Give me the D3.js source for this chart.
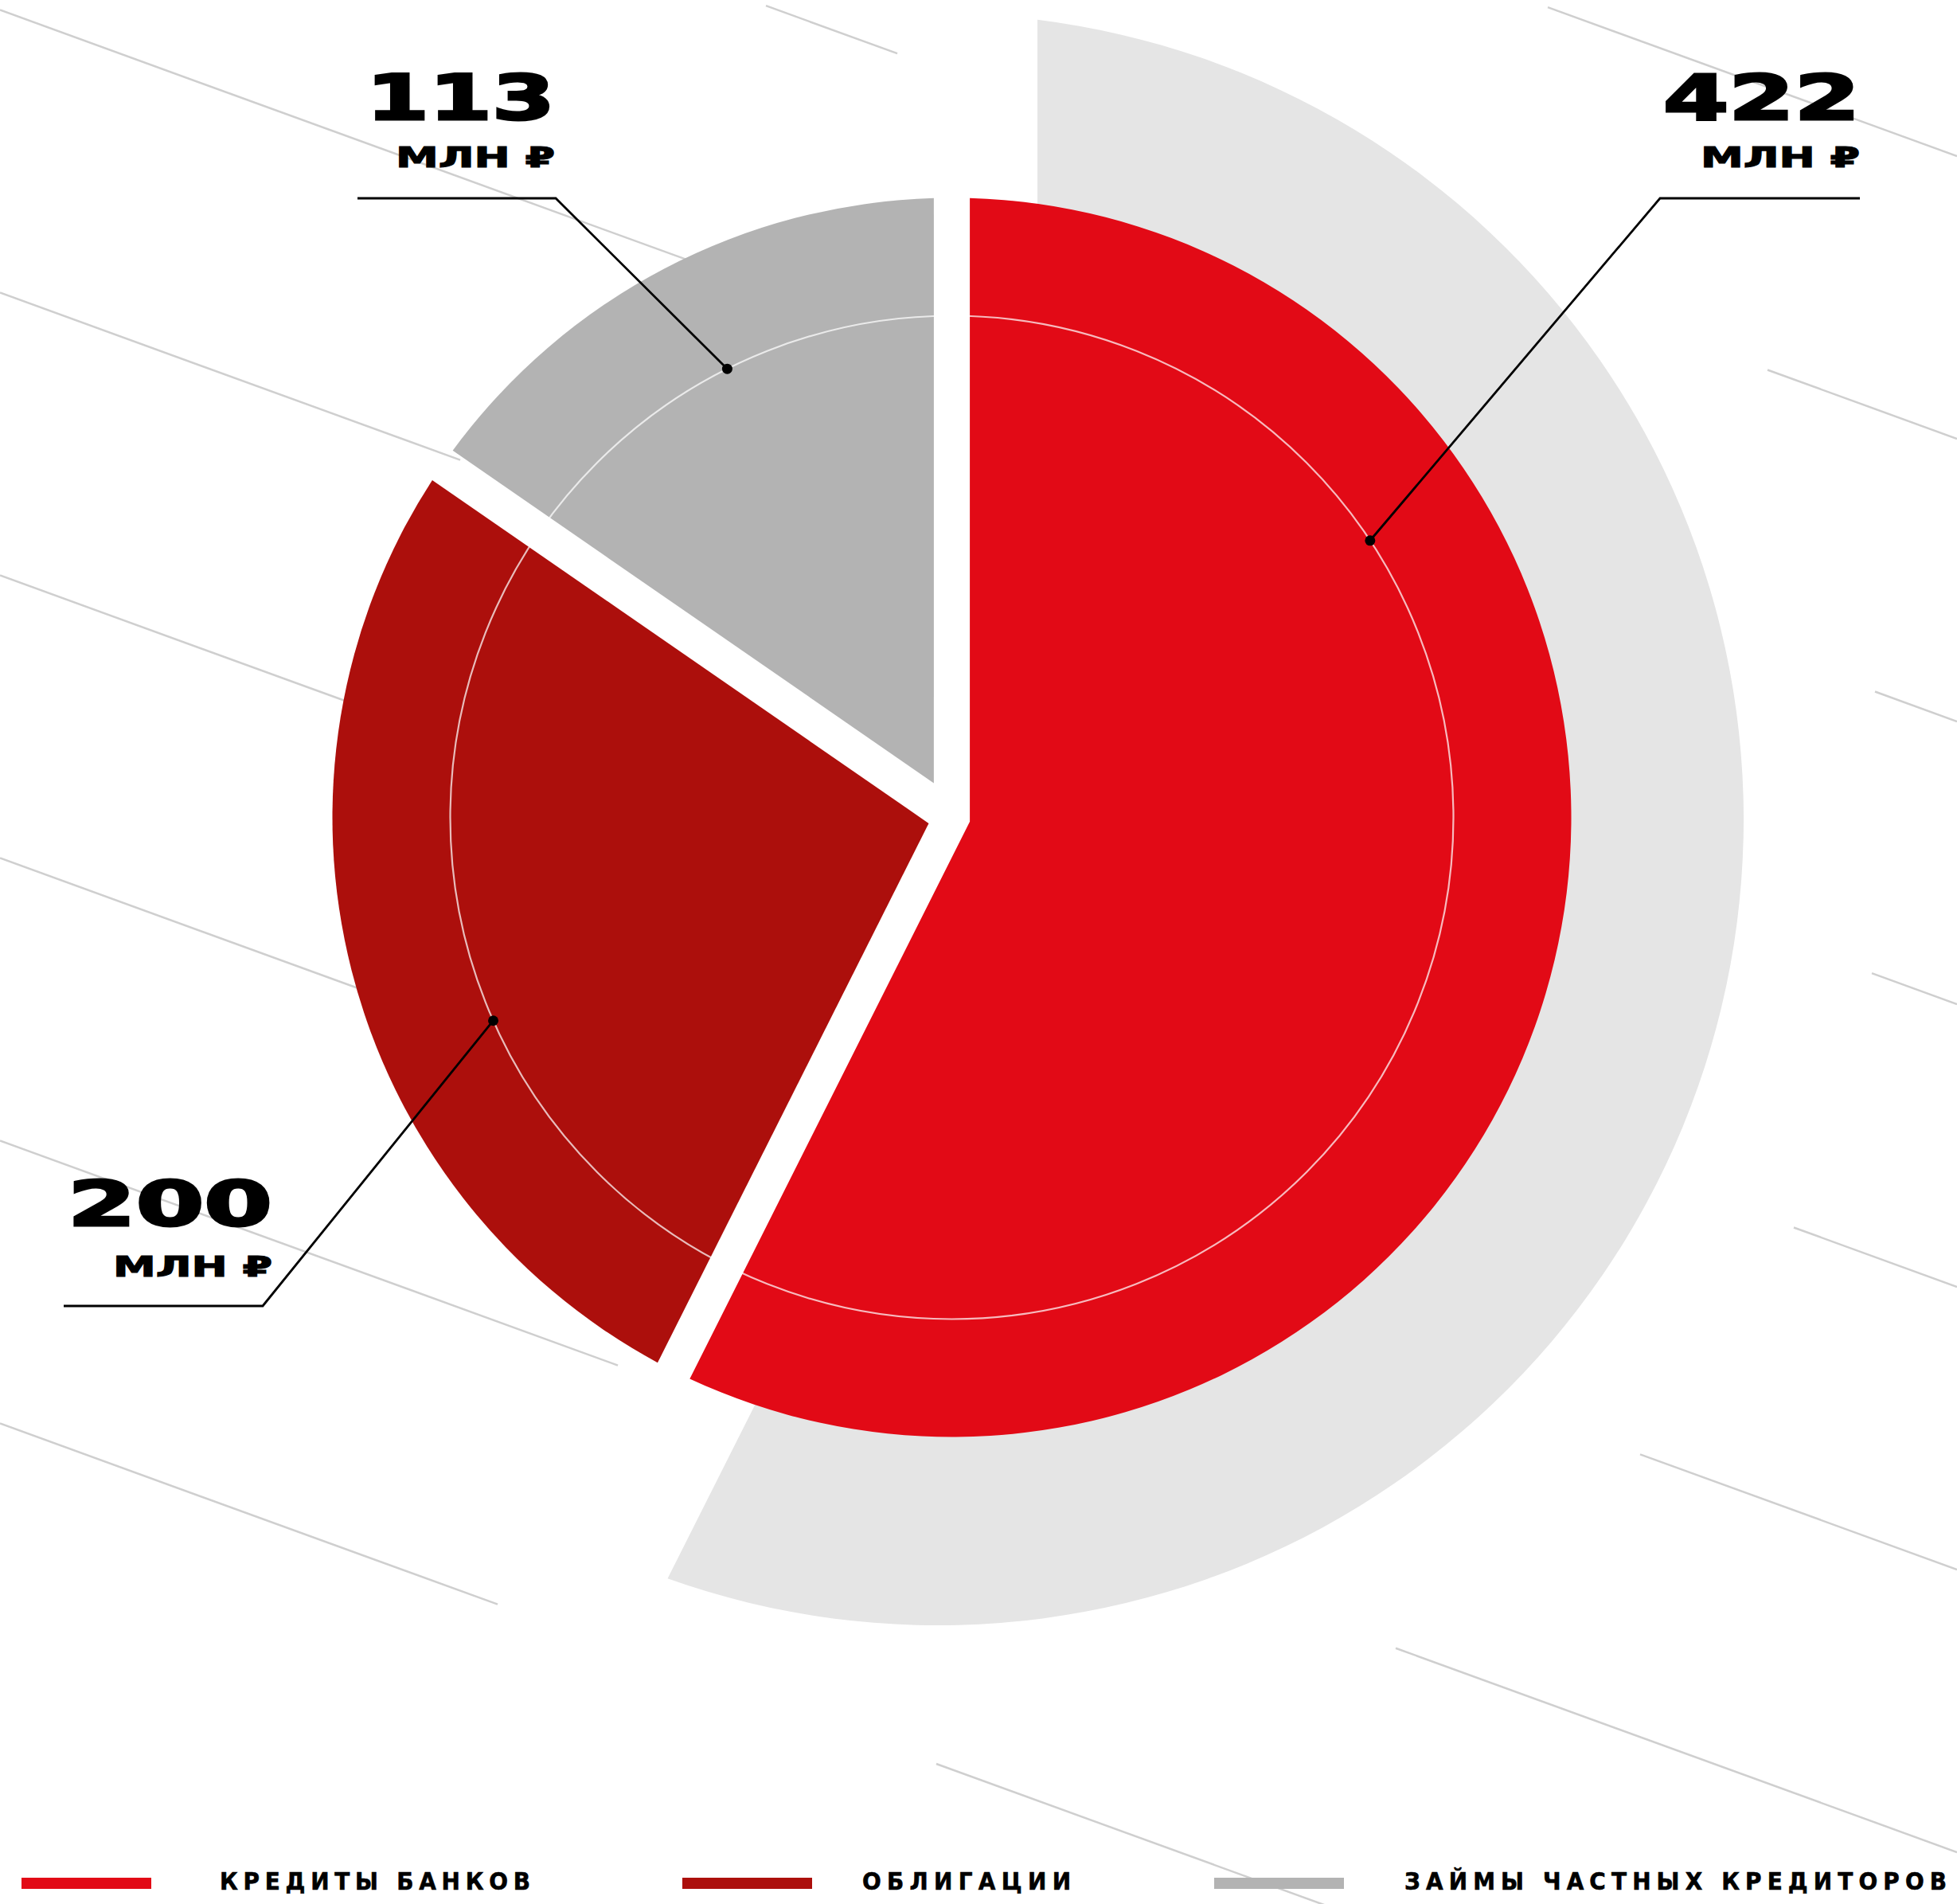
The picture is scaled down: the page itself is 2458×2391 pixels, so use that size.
<!DOCTYPE html>
<html>
<head>
<meta charset="utf-8">
<script src="https://cdnjs.cloudflare.com/ajax/libs/d3/7.8.5/d3.min.js"></script>
<style>
  html, body { margin: 0; padding: 0; background: #fff; }
  svg { display: block; }
</style>
</head>
<body>
<svg id="chart" width="2458" height="2391"></svg>
<script>
/*
 * Debt structure: exploded pie with a light backdrop sector behind
 * the largest slice, leader-line labels and a legend along the bottom.
*/

// Data
var categories = ["КРЕДИТЫ БАНКОВ", "ОБЛИГАЦИИ", "ЗАЙМЫ ЧАСТНЫХ КРЕДИТОРОВ"];
var values = [422, 200, 113];
var unitLabel = "МЛН ₽";

// Styles
var sliceColors = ["#e20a16", "#ac0f0c", "#b3b3b3"];
var BACKDROP_COLOR = "#e5e5e5";
var STRIPE_COLOR = "#cfcfcf";

var WIDTH = 2458, HEIGHT = 2391;
var CX = 1195.5, CY = 1026.5;     // pie centre
var RADIUS = 778;                 // outer radius of the slices
var INSET = 22.6;                 // half of the white gap between slices
var GUIDE_RADIUS = 630;           // thin circle the leader dots sit on

// Backdrop sector behind the biggest slice.
var BG_CX = 1178, BG_CY = 1029, BG_RADIUS = 1012, BG_INSET = 125;

// Decorative diagonal stripes: [stripe number, x from, x to].
var STRIPE_SLOPE = 0.3635, STRIPE_Y0 = 12.5, STRIPE_STEP = 355;
var stripes = [
  [-2, 1944, 2458], [-1, 962, 1127], [-1, 2220, 2458],
  [0, 0, 900], [0, 2355, 2458], [1, 0, 578], [1, 2351, 2458],
  [2, 0, 445], [2, 2253, 2458], [3, 0, 460], [3, 2060, 2458],
  [4, 0, 776], [4, 1753, 2458], [5, 0, 625], [5, 1176, 1700]
];

// Leader labels, one per slice.
var annotations = [
  { index: 0, angle: 56.5,  elbow: [2085, 249],  end: [2336, 249],  textX: 2336, numY: 150,  unitY: 210,  numWidth: 247 },
  { index: 1, angle: 246.1, elbow: [330, 1640],  end: [80, 1640],   textX: 342,  numY: 1539, unitY: 1603, numWidth: 257 },
  { index: 2, angle: 333.4, elbow: [698, 249],   end: [449, 249],   textX: 697,  numY: 150,  unitY: 210,  numWidth: 237 }
];

// Legend layout.
var legendBarX = [27, 857, 1525];
var legendTextX = [276, 1083, 1764];
var legendTextWidth = [390, 262, 681];
var LEGEND_Y = 2373;

var svg = d3.select("#chart");

svg.append("rect")
  .attr("width", WIDTH)
  .attr("height", HEIGHT)
  .attr("fill", "#fff");

// Point on a circle for a pie angle (0 = 12 o'clock, clockwise).
function polar(cx, cy, r, a) {
  return [cx + r * Math.sin(a), cy - r * Math.cos(a)];
}

// Sector with parallel-sided gaps: both straight edges are moved
// inwards by `inset`, so the tip sits off the centre on the bisector.
function insetSector(cx, cy, r, a0, a1, inset) {
  var half = (a1 - a0) / 2;
  var tip = polar(cx, cy, inset / Math.sin(half), a0 + half);
  var da = Math.asin(inset / r);
  var p = d3.path();
  p.moveTo(tip[0], tip[1]);
  p.arc(cx, cy, r, a0 + da - Math.PI / 2, a1 - da - Math.PI / 2);
  p.closePath();
  return p.toString();
}

// Stripes go first so everything else sits on top of them.
var stripeY = d3.scaleLinear().domain([0, 1]).range([0, STRIPE_SLOPE]);

svg.append("g")
  .attr("class", "stripes")
  .selectAll("line")
  .data(stripes)
  .enter().append("line")
    .attr("x1", function(d) { return d[1]; })
    .attr("y1", function(d) { return STRIPE_Y0 + STRIPE_STEP * d[0] + stripeY(d[1]); })
    .attr("x2", function(d) { return d[2]; })
    .attr("y2", function(d) { return STRIPE_Y0 + STRIPE_STEP * d[0] + stripeY(d[2]); })
    .attr("stroke", STRIPE_COLOR)
    .attr("stroke-width", 2.5);

var pie = d3.pie().sort(null).value(function(d) { return d; });
var arcs = pie(values);

// Light backdrop behind the bank-loan slice.
svg.append("path")
  .attr("d", insetSector(BG_CX, BG_CY, BG_RADIUS, arcs[0].startAngle, arcs[0].endAngle, BG_INSET))
  .attr("fill", BACKDROP_COLOR);

svg.append("g")
  .attr("class", "slices")
  .selectAll("path")
  .data(arcs)
  .enter().append("path")
    .attr("d", function(d) { return insetSector(CX, CY, RADIUS, d.startAngle, d.endAngle, INSET); })
    .attr("fill", function(d, i) { return sliceColors[i]; });

// Thin guide circle.
svg.append("circle")
  .attr("cx", CX)
  .attr("cy", CY)
  .attr("r", GUIDE_RADIUS)
  .attr("fill", "none")
  .attr("stroke", "rgba(255,255,255,0.72)")
  .attr("stroke-width", 2.2);

// Leader lines, dots and value labels.
var labels = svg.append("g").attr("class", "labels");

annotations.forEach(function(a) {
  var dot = polar(CX, CY, GUIDE_RADIUS, a.angle * Math.PI / 180);

  labels.append("polyline")
    .attr("points", [dot, a.elbow, a.end].map(function(p) { return p.join(","); }).join(" "))
    .attr("fill", "none")
    .attr("stroke", "#000")
    .attr("stroke-width", 2.8);

  labels.append("circle")
    .attr("cx", dot[0])
    .attr("cy", dot[1])
    .attr("r", 6.5)
    .attr("fill", "#000");

  labels.append("text")
    .attr("x", a.textX)
    .attr("y", a.numY)
    .attr("text-anchor", "end")
    .attr("font-family", "DejaVu Sans, sans-serif")
    .attr("font-weight", 700)
    .attr("font-size", 78)
    .attr("textLength", a.numWidth)
    .attr("lengthAdjust", "spacingAndGlyphs")
    .attr("stroke", "#000")
    .attr("stroke-width", 3)
    .text(values[a.index]);

  labels.append("text")
    .attr("x", a.textX)
    .attr("y", a.unitY)
    .attr("text-anchor", "end")
    .attr("font-family", "DejaVu Sans, sans-serif")
    .attr("font-weight", 700)
    .attr("font-size", 36)
    .attr("textLength", 200)
    .attr("lengthAdjust", "spacingAndGlyphs")
    .attr("stroke", "#000")
    .attr("stroke-width", 1.2)
    .text(unitLabel);
});

// Legend.
var legend = svg.append("g").attr("class", "legend");

categories.forEach(function(name, i) {
  legend.append("rect")
    .attr("x", legendBarX[i])
    .attr("y", 2358)
    .attr("width", 163)
    .attr("height", 14)
    .attr("fill", sliceColors[i]);

  legend.append("text")
    .attr("x", legendTextX[i])
    .attr("y", LEGEND_Y)
    .attr("font-family", "DejaVu Sans Condensed, Liberation Sans Narrow, sans-serif")
    .attr("font-weight", 700)
    .attr("font-size", 31)
    .attr("textLength", legendTextWidth[i])
    .attr("lengthAdjust", "spacing")
    .attr("fill", "#000")
    .attr("stroke", "#000")
    .attr("stroke-width", 0.6)
    .text(name);
});
</script>
</body>
</html>
